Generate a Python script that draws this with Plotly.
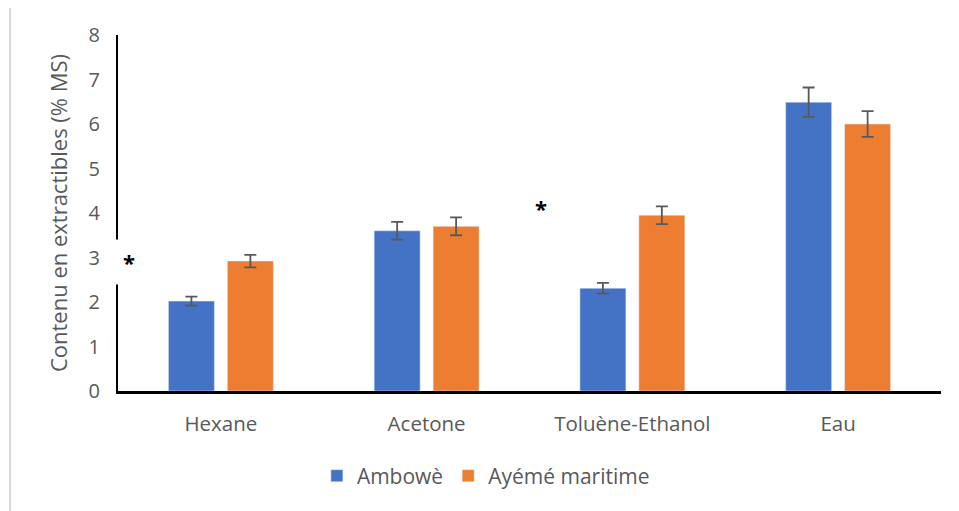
import plotly.graph_objects as go

categories = ["Hexane", "Acetone", "Toluène-Ethanol", "Eau"]
ambowe = [2.02, 3.60, 2.31, 6.49]
ambowe_err = [0.10, 0.20, 0.12, 0.33]
ayeme = [2.92, 3.70, 3.95, 6.00]
ayeme_err = [0.14, 0.20, 0.20, 0.29]
star_x = [-0.447, 1.558]
star_y = [2.9, 4.11]

FONT = "Open Sans"
GREY = "#595959"

fig = go.Figure()
fig.add_trace(go.Bar(
    x=list(range(len(categories))), y=ambowe, name="Ambowè",
    marker=dict(color="#4472C4"),
    error_y=dict(type="data", array=ambowe_err, color=GREY, thickness=1.8, width=6),
))
fig.add_trace(go.Bar(
    x=list(range(len(categories))), y=ayeme, name="Ayémé maritime",
    marker=dict(color="#ED7D31"),
    error_y=dict(type="data", array=ayeme_err, color=GREY, thickness=1.8, width=6),
))

for sx, sy in zip(star_x, star_y):
    fig.add_annotation(x=sx, y=sy, xref="x", yref="y", text="<b>*</b>", showarrow=False,
                       font=dict(family=FONT, size=22, color="black"),
                       bgcolor="white", borderpad=7)

# outer chart border (only top and left visible)
fig.add_shape(type="line", xref="paper", yref="paper", x0=-0.1312, x1=1.2, y0=1.0815, y1=1.0815,
              line=dict(color="#d9d9d9", width=2), layer="below")
fig.add_shape(type="line", xref="paper", yref="paper", x0=-0.1312, x1=-0.1312, y0=1.0815, y1=-0.5,
              line=dict(color="#d9d9d9", width=2), layer="below")

fig.update_layout(
    width=959, height=511,
    margin=dict(l=110, r=26, t=27, b=128),
    paper_bgcolor="white", plot_bgcolor="white",
    barmode="group", bargap=0.427, bargroupgap=0.22,
    font=dict(family=FONT, size=20, color=GREY),
    showlegend=True,
    legend=dict(orientation="h", x=0.447, xanchor="center", y=-0.239, yanchor="middle",
                font=dict(family=FONT, size=21, color=GREY), itemwidth=30,
                traceorder="normal"),
    xaxis=dict(
        tickmode="array", tickvals=list(range(len(categories))), ticktext=categories,
        range=[-0.5, 3.5], showgrid=False, zeroline=False,
        showline=True, linecolor="black", linewidth=3,
        ticks="", ticklabelstandoff=12,
        tickfont=dict(family=FONT, size=20.5, color=GREY),
    ),
    yaxis=dict(
        range=[0, 8], dtick=1, showgrid=False, zeroline=False,
        showline=True, linecolor="black", linewidth=2,
        ticks="", ticklabelstandoff=12,
        tickfont=dict(family=FONT, size=20, color=GREY),
        title=dict(text="Contenu en extractibles (% MS)", standoff=15,
                   font=dict(family=FONT, size=22, color=GREY)),
    ),
)

fig.write_html("out.html")
